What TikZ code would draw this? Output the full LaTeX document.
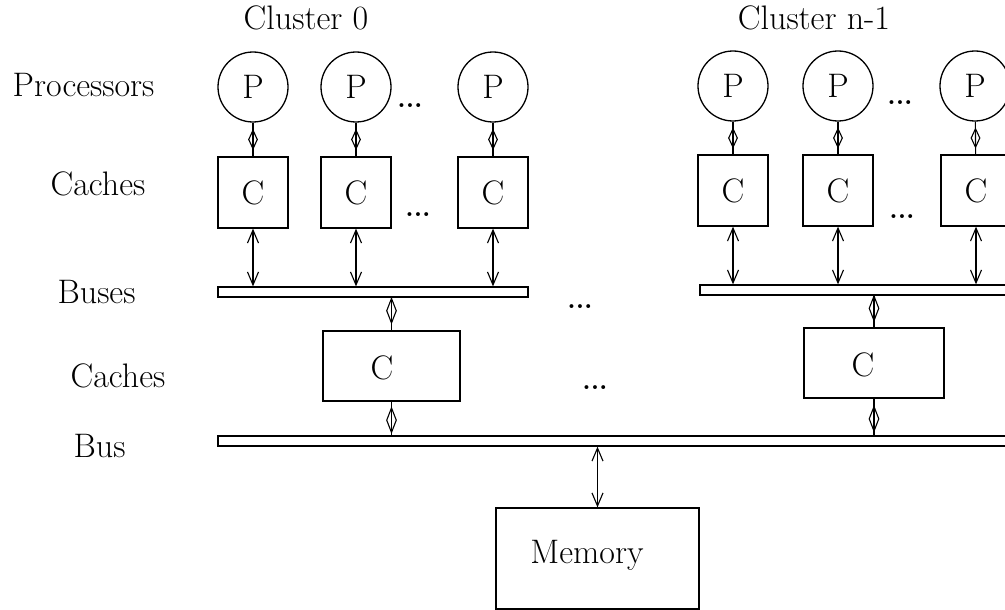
\documentclass[tikz,border=0pt]{standalone}
\usetikzlibrary{arrows.meta,shapes.geometric}
\begin{document}
\begin{tikzpicture}[x=1pt,y=-1pt,line width=1.3pt,
  txt/.style={font=\fontsize{34}{40}\selectfont,inner sep=0pt},
  lbl/.style={txt,anchor=base west},
  dots/.style={txt,anchor=base,font=\fontsize{27}{32}\selectfont\bfseries},
  proc/.style={circle,draw,minimum size=70pt,inner sep=0pt,font=\fontsize{34}{40}\selectfont},
  cache/.style={rectangle,draw,minimum width=70pt,minimum height=71pt,inner sep=0pt,font=\fontsize{34}{40}\selectfont},
  bigcache/.style={rectangle,draw,minimum width=137pt,minimum height=70pt,inner sep=0pt},
  bus/.style={rectangle,draw,minimum height=10pt,inner sep=0pt},
  dmd/.style={diamond,draw,minimum width=9pt,minimum height=19pt,inner sep=0pt,line width=1.1pt},
  dmdb/.style={diamond,draw,minimum width=10pt,minimum height=25pt,inner sep=0pt,line width=1.1pt},
  dbl/.style={<->,>={Straight Barb[length=13pt,width=11pt]},line width=1.1pt}]
\useasboundingbox (0,0) rectangle (1005,610);

% titles and row labels
\node[txt,anchor=base] (t0) at (306,30) {Cluster 0};
\node[txt,anchor=base] (t1) at (814,30) {Cluster n-1};
\node[lbl] (lp) at (12,96) {Processors};
\node[lbl] (lc) at (50,195) {Caches};
\node[lbl] (lb) at (57,303) {Buses};
\node[lbl] (lc2) at (70,387) {Caches};
\node[lbl] (lb2) at (73,457) {Bus};

% cluster 0
\node[proc] (p01) at (253,87) {P};
\node[proc] (p02) at (356,87) {P};
\node[proc] (p03) at (493,87) {P};
\node[cache] (c01) at (253,192.5) {C};
\node[cache] (c02) at (356,192.5) {C};
\node[cache] (c03) at (493,192.5) {C};
\node[bus,minimum width=310pt] (bus0) at (373,292) {};
\node[dots] (d01) at (410,108) {...};
\node[dots] (d02) at (418,216) {...};

% cluster n-1
\node[proc] (p11) at (733,86) {P};
\node[proc] (p12) at (838,86) {P};
\node[proc] (p13) at (975,86) {P};
\node[cache] (c11) at (733,190.5) {C};
\node[cache] (c12) at (838,190.5) {C};
\node[cache] (c13) at (976,190.5) {C};
\node[bus,minimum width=320pt] (bus1) at (860,290) {};
\node[dots] (d11) at (900,105) {...};
\node[dots] (d12) at (902,218) {...};

% second level
\node[dots] (d21) at (580,308) {...};
\node[dots] (d22) at (595,389) {...};
\node[bigcache] (l2a) at (391.5,366) {};
\node[txt,anchor=base] (l2at) at (382,379) {C};
\node[bigcache,minimum width=140pt] (l2b) at (874,363) {};
\node[txt,anchor=base] (l2bt) at (863,376) {C};
\node[bus,minimum width=802pt] (bus2) at (619,441) {};

% memory
\node[rectangle,draw,minimum width=203pt,minimum height=101pt,inner sep=0pt] (mem) at (597.5,558.5) {};
\node[txt,anchor=base] (memt) at (587,563) {Memory};

% processor - cache links
\foreach \i in {01,02,03,11,12,13}{
  \draw[line width=1.1pt] (p\i) -- node[dmd]{} (c\i);
}
% cache - bus links
\foreach \i in {01,02,03}{
  \draw[dbl] (c\i) -- (c\i |- bus0.north);
}
\foreach \i in {11,12,13}{
  \draw[dbl] (c\i) -- (c\i |- bus1.north);
}
% bus - second-level caches
\draw[line width=1.1pt] (l2a |- bus0.south) -- node[dmdb,pos=0.4]{} (l2a);
\draw[line width=1.1pt] (l2a) -- node[dmdb,pos=0.55]{} (l2a |- bus2.north);
\draw[line width=1.1pt] (l2b |- bus1.south) -- node[dmdb,pos=0.4]{} (l2b);
\draw[line width=1.1pt] (l2b) -- node[dmdb,pos=0.55]{} (l2b |- bus2.north);
% bus - memory
\draw[dbl] (mem) -- (mem |- bus2.south);
\end{tikzpicture}
\end{document}
